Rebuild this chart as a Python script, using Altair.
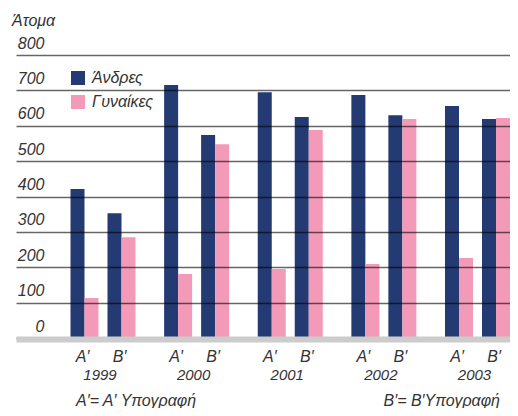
import altair as alt
import pandas as pd

years = ["1999", "2000", "2001", "2002", "2003"]
signatures = ["Α′", "Β′"]
genders = ["Άνδρες", "Γυναίκες"]
men = [421, 353, 715, 574, 695, 625, 687, 630, 656, 619]
women = [113, 285, 181, 548, 195, 588, 209, 619, 226, 622]
colors = ["#243a73", "#f49ab9"]
y_ticks = [0, 100, 200, 300, 400, 500, 600, 700, 800]
y_title = "Άτομα"
notes = ["Α′= Α′ Υπογραφή", "Β′= Β′Υπογραφή"]

rows = []
for i, yr in enumerate(years):
    for j, s in enumerate(signatures):
        k = i * 2 + j
        rows.append({"year": yr, "sig": s, "gender": genders[0], "value": men[k]})
        rows.append({"year": yr, "sig": s, "gender": genders[1], "value": women[k]})
df = pd.DataFrame(rows)
labels_df = pd.DataFrame([{"year": yr, "sig": s} for yr in years for s in signatures])

FONT = "Liberation Sans"
TXT = "#333333"
FS = 16

x_enc = alt.X(
    "year:N",
    scale=alt.Scale(domain=years, paddingInner=0.30574, paddingOuter=0.29107, align=1),
    axis=alt.Axis(
        title=None, domain=True, domainColor="#cccccc", domainWidth=6, offset=1,
        ticks=False, tickSize=0, labelPadding=28, labelAngle=0, labelOffset=-3,
        labelFont=FONT, labelFontSize=15, labelFontStyle="italic", labelColor=TXT,
        grid=False, zindex=2,
    ),
)
xo_enc = alt.XOffset(
    "sig:N",
    scale=alt.Scale(domain=signatures, paddingInner=0.7, paddingOuter=0.2284, align=0.828),
)
y_enc = alt.Y(
    "value:Q",
    scale=alt.Scale(domain=[0, 800], nice=False),
    axis=alt.Axis(
        values=y_ticks, title=None, grid=True, gridColor="#000000", gridWidth=1.3,
        gridOpacity=0.6,
        domain=False, ticks=False, tickSize=0, labelAlign="right",
        labelBaseline="alphabetic", labelPadding=-28, labelOffset=-7,
        labelFont=FONT, labelFontSize=FS, labelFontStyle="italic", labelColor=TXT,
        zindex=1,
    ),
)
color_enc = alt.Color(
    "gender:N",
    scale=alt.Scale(domain=genders, range=colors),
    legend=alt.Legend(
        title=None, orient="none", legendX=54, legendY=15,
        symbolType="square", symbolSize=196, symbolStrokeWidth=0, symbolOpacity=1,
        labelFont=FONT, labelFontSize=FS, labelFontStyle="italic", labelColor=TXT,
        rowPadding=8, labelOffset=6,
    ),
)

base = alt.Chart(df)
men_layer = base.transform_filter(alt.datum.gender == genders[0]).mark_bar(
    width=14, align="right", opacity=1
).encode(x=x_enc, xOffset=xo_enc, y=y_enc, color=color_enc)
women_layer = base.transform_filter(alt.datum.gender == genders[1]).mark_bar(
    width=14, align="left", opacity=1
).encode(x=x_enc, xOffset=xo_enc, y=y_enc, color=color_enc)

sig_text = alt.Chart(labels_df).mark_text(
    font=FONT, fontSize=FS, fontStyle="italic", color=TXT, baseline="middle", dx=-7.5
).encode(
    x=alt.X("year:N"), xOffset=alt.XOffset("sig:N"), text="sig:N", y=alt.value(301.7)
)

title_text = alt.Chart(pd.DataFrame({"t": [y_title]})).mark_text(
    font=FONT, fontSize=FS, fontStyle="italic", color=TXT, align="left", baseline="alphabetic"
).encode(text="t:N", x=alt.value(-4), y=alt.value(-29))

note_left = alt.Chart(pd.DataFrame({"t": [notes[0]]})).mark_text(
    font=FONT, fontSize=FS, fontStyle="italic", color=TXT, align="left", baseline="middle"
).encode(text="t:N", x=alt.value(60), y=alt.value(346))
note_right = alt.Chart(pd.DataFrame({"t": [notes[1]]})).mark_text(
    font=FONT, fontSize=FS, fontStyle="italic", color=TXT, align="right", baseline="middle"
).encode(text="t:N", x=alt.value(484), y=alt.value(346))

chart = alt.layer(
    men_layer, women_layer, sig_text, title_text, note_left, note_right
).properties(
    width=494,
    height=283,
    autosize=alt.AutoSizeParams(type="none"),
    padding={"left": 8, "top": 47, "right": 0, "bottom": 70},
).configure_view(stroke=None)

chart.save("out.html", embed_options={"renderer": "svg", "actions": False})
